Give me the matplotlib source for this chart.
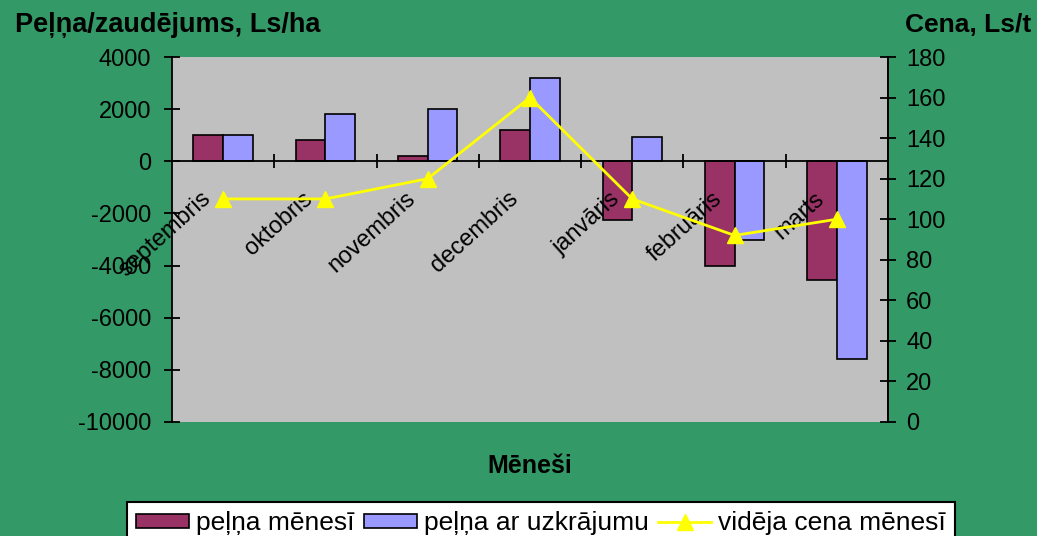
import matplotlib.pyplot as plt
import numpy as np
from matplotlib.transforms import ScaledTranslation

menesi = ['septembris', 'oktobris', 'novembris', 'decembris', 'janvāris', 'februāris', 'marts']
pelna_menesi = [1000, 800, 200, 1200, -2250, -4000, -4550]
pelna_uzkr = [1000, 1800, 2000, 3200, 950, -3000, -7600]
cena = [110, 110, 120, 160, 110, 92, 100]

green = '#339966'
plt.rcParams['font.family'] = ['Liberation Sans', 'DejaVu Sans']
plt.rcParams['axes.unicode_minus'] = False

fig = plt.figure(figsize=(10.37, 5.36), dpi=100, facecolor=green)
ax = fig.add_axes([172/1037, (536-422)/536, 716/1037, 365/536])
ax.set_facecolor('#c0c0c0')

x = np.arange(len(menesi))
w = 0.29
b1 = ax.bar(x - w/2, pelna_menesi, w, color='#993366', edgecolor='black', linewidth=1.2)
b2 = ax.bar(x + w/2, pelna_uzkr, w, color='#9999ff', edgecolor='black', linewidth=1.2)

ax.set_xlim(-0.5, len(menesi) - 0.5)
ax.set_ylim(-10000, 4000)
ax.set_yticks(range(-10000, 4001, 2000))
ax.spines['top'].set_visible(False)
ax.spines['bottom'].set_position(('data', 0))
for s in ['left', 'right', 'bottom']:
    ax.spines[s].set_linewidth(1.3)
ax.tick_params(axis='y', direction='inout', length=12, width=1.3, pad=9, labelsize=17, colors='black')
ax.set_xticks(np.arange(0.5, len(menesi) - 1, 1))
ax.set_xticklabels([])
ax.tick_params(axis='x', which='major', direction='inout', length=10, width=1.3)
ax.set_xticks(x, minor=True)
ax.set_xticklabels(menesi, minor=True, rotation=42, ha='right', fontsize=17)
ax.tick_params(axis='x', which='minor', length=0, pad=19)
off = ScaledTranslation(-8/100, 0, fig.dpi_scale_trans)
for lab in ax.get_xticklabels(minor=True):
    lab.set_transform(lab.get_transform() + off)

ax2 = ax.twinx()
ax2.set_ylim(0, 180)
ax2.set_yticks(range(0, 181, 20))
ln, = ax2.plot(x, cena, color='#ffff00', linewidth=2, marker='^', markersize=11,
               markerfacecolor='#ffff00', markeredgecolor='#ffff00')
ax2.spines['top'].set_visible(False)
ax2.spines['bottom'].set_visible(False)
ax2.spines['left'].set_visible(False)
ax2.spines['right'].set_linewidth(1.3)
ax2.tick_params(axis='y', direction='inout', length=12, width=1.3, pad=7, labelsize=17, colors='black')

fig.text(15/1037, 1 - 25/536, 'Peļņa/zaudējums, Ls/ha', fontsize=19.5, fontweight='bold', va='center', ha='left')
fig.text(1031/1037, 1 - 25/536, 'Cena, Ls/t', fontsize=19, fontweight='bold', va='center', ha='right')
fig.text(530/1037, 1 - 466/536, 'Mēneši', fontsize=18, fontweight='bold', va='center', ha='center')

leg = fig.legend([b1, b2, ln], ['peļņa mēnesī', 'peļņa ar uzkrājumu', 'vidēja cena mēnesī'],
                 loc='upper center', bbox_to_anchor=(541/1037, 1 - 502/536), ncol=3, fontsize=19,
                 frameon=True, fancybox=False, edgecolor='black', facecolor='white', framealpha=1,
                 handlelength=2.0, handleheight=0.42, handletextpad=0.28, columnspacing=0.35,
                 borderpad=0.35, borderaxespad=0)
leg.get_frame().set_linewidth(1.5)

fig.savefig('out.png', dpi=100, facecolor=green)
